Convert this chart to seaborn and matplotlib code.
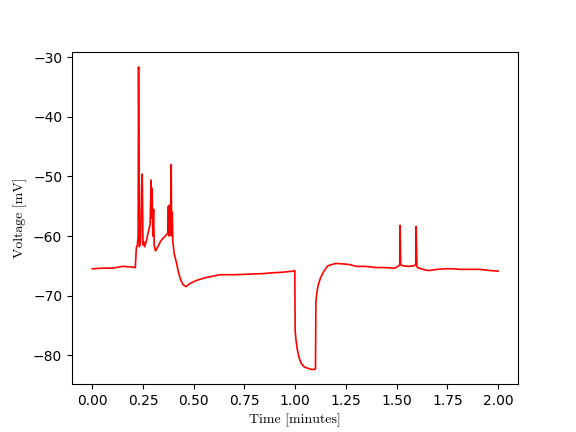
import numpy as np
import pandas as pd
import matplotlib
matplotlib.use("Agg")
import matplotlib.pyplot as plt
import seaborn as sns

tiempo = [0.0, 0.05, 0.10, 0.15, 0.19, 0.212, 0.217, 0.222, 0.226, 0.228, 0.232,
          0.238, 0.243, 0.246, 0.25, 0.254, 0.258, 0.265, 0.275, 0.285, 0.29,
          0.292, 0.295, 0.298, 0.302, 0.305, 0.308, 0.312, 0.32, 0.335, 0.345,
          0.36, 0.372, 0.375, 0.378, 0.381, 0.385, 0.389, 0.391, 0.394, 0.397,
          0.404, 0.415, 0.424, 0.437, 0.448, 0.463, 0.48, 0.51, 0.557, 0.60,
          0.63, 0.70, 0.78, 0.85, 0.877, 0.93, 0.99, 0.998, 1.0, 1.004, 1.01,
          1.02, 1.03, 1.045, 1.06, 1.08, 1.098, 1.1, 1.102, 1.107, 1.113,
          1.125, 1.14, 1.16, 1.20, 1.24, 1.27, 1.30, 1.345, 1.40, 1.44,
          1.49, 1.507, 1.515, 1.517, 1.52, 1.53, 1.56, 1.586, 1.594, 1.596,
          1.60, 1.61, 1.64, 1.66, 1.70, 1.74, 1.78, 1.81, 1.86, 1.91, 1.96, 2.0]
voltaje = [-65.5, -65.4, -65.4, -65.1, -65.2, -65.3, -62.0, -61.5, -60.0, -31.6, -61.8,
           -61.0, -52.0, -49.6, -61.5, -61.0, -61.8, -61.0, -59.5, -58.0, -50.6,
           -57.0, -52.0, -60.0, -55.5, -61.5, -62.0, -62.5, -62.0, -61.0, -60.5,
           -60.0, -59.5, -55.0, -60.0, -54.8, -59.8, -48.0, -60.0, -56.0, -61.0,
           -63.0, -64.5, -66.0, -67.5, -68.2, -68.5, -68.0, -67.5, -67.0, -66.7,
           -66.5, -66.5, -66.4, -66.3, -66.2, -66.1, -65.9, -65.8, -76.0, -77.5, -79.0,
           -80.5, -81.4, -82.0, -82.2, -82.4, -82.4, -82.3, -71.0, -69.5, -68.3,
           -67.0, -66.0, -65.0, -64.6, -64.7, -64.8, -65.1, -65.1, -65.3, -65.3,
           -65.4, -65.1, -64.9, -58.2, -64.8, -65.0, -65.1, -65.0, -64.8, -58.4,
           -65.2, -65.4, -65.7, -65.8, -65.6, -65.5, -65.5, -65.6, -65.6, -65.6, -65.8, -65.9]

df = pd.DataFrame({"t": tiempo, "v": voltaje})

fig, ax = plt.subplots(figsize=(5.76, 4.32), dpi=100)
sns.lineplot(data=df, x="t", y="v", color="red", linewidth=1.2,
             sort=False, estimator=None, ax=ax)
ax.set_xlabel("Time [minutes]", fontfamily="cmr10")
ax.set_ylabel("Voltage [mV]", fontfamily="cmr10")
ax.set_xticks(np.arange(0, 2.01, 0.25))
plt.savefig("out.png", dpi=100)
plt.close()
